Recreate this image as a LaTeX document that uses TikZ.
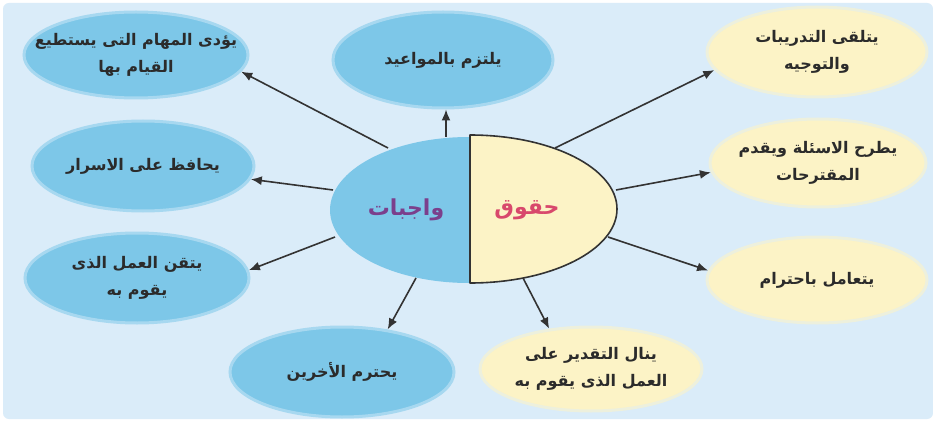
\documentclass[tikz,border=0pt]{standalone}
\usepackage{fontspec}
\usetikzlibrary{shapes.geometric,arrows.meta}
\newfontfamily\arabicfont[Script=Arabic]{DejaVu Sans}
\TeXXeTstate=1
\definecolor{bgblue}{HTML}{DAECF9}
\definecolor{ellblue}{HTML}{7DC7E8}
\definecolor{ellyellow}{HTML}{FCF3C6}
\definecolor{txtdark}{HTML}{2B2B2B}
\definecolor{wajcol}{HTML}{7B3F8C}
\definecolor{haqcol}{HTML}{D8486C}
\definecolor{arrcol}{HTML}{333333}
\tikzset{
  bell/.style={ellipse, fill=ellblue, draw=ellblue!55!bgblue, line width=3pt, inner sep=0pt},
  yell/.style={ellipse, fill=ellyellow, draw=ellyellow!55!bgblue, line width=3pt, inner sep=0pt},
  txt/.style={font=\arabicfont\bfseries\fontsize{16}{27}\selectfont, text=txtdark, align=center, inner sep=0pt},
  big/.style={font=\arabicfont\bfseries\fontsize{22}{24}\selectfont},
  arr/.style={draw=arrcol, line width=1.6pt, -{Latex[length=11pt,width=9pt]}},
}
\begin{document}
\begin{tikzpicture}[x=1pt,y=-1pt]
\useasboundingbox (0,0) rectangle (933,422);
\fill[white] (0,0) rectangle (933,422);
\fill[bgblue, rounded corners=6pt] (3,3) rectangle (933,419);

% blue ellipses (duties)
\node[bell, minimum width=224, minimum height=86] (e1) at (136,55) {};
\node[txt] (t1) at (e1) {\beginR يؤدى المهام التى يستطيع\endR\\\beginR القيام بها\endR};
\node[bell, minimum width=220, minimum height=96] (e2) at (443,60) {};
\node[txt] (t2) at (e2) {\beginR يلتزم بالمواعيد\endR};
\node[bell, minimum width=222, minimum height=90] (e3) at (143,166) {};
\node[txt] (t3) at (e3) {\beginR يحافظ على الاسرار\endR};
\node[bell, minimum width=224, minimum height=90] (e4) at (137,278) {};
\node[txt] (t4) at (e4) {\beginR يتقن العمل الذى\endR\\\beginR يقوم به\endR};
\node[bell, minimum width=224, minimum height=90] (e5) at (342,372) {};
\node[txt] (t5) at (e5) {\beginR يحترم الأخرين\endR};

% yellow ellipses (rights)
\node[yell, minimum width=220, minimum height=90] (y1) at (817,52) {};
\node[txt] (u1) at (y1) {\beginR يتلقى التدريبات\endR\\\beginR والتوجيه\endR};
\node[yell, minimum width=216, minimum height=88] (y2) at (818,163) {};
\node[txt] (u2) at (y2) {\beginR يطرح الاسئلة ويقدم\endR\\\beginR المقترحات\endR};
\node[yell, minimum width=220, minimum height=86] (y3) at (817,280) {};
\node[txt] (u3) at (y3) {\beginR يتعامل باحترام\endR};
\node[yell, minimum width=222, minimum height=84] (y4) at (591,369) {};
\node[txt] (u4) at (y4) {\beginR ينال التقدير على\endR\\\beginR العمل الذى يقوم به\endR};

% central shape
\begin{scope}
  \clip (320,120) rectangle (469,300);
  \fill[ellblue] (469,210) ellipse [x radius=139, y radius=73];
\end{scope}
\begin{scope}
  \clip (470,120) rectangle (640,300);
  \fill[ellyellow] (470,209) ellipse [x radius=147, y radius=74];
\end{scope}
\draw[arrcol, line width=1.6pt, line join=round] (470,135) arc[start angle=-90, end angle=90, x radius=147, y radius=74] -- cycle;
\node[big, text=wajcol] (waj) at (406,210) {\beginR واجبات\endR};
\node[big, text=haqcol] (haq) at (527,210) {\beginR حقوق\endR};

% arrow start points on the central shape
\coordinate (s1) at (388,148);
\coordinate (s2) at (446,137);
\coordinate (s3) at (333,190);
\coordinate (s4) at (335,237);
\coordinate (s5) at (416,278);
\coordinate (s6) at (555,148);
\coordinate (s7) at (616,190);
\coordinate (s8) at (608,237);
\coordinate (s9) at (523,278);

\draw[arr] (s1) -- (e1.-9.6);
\draw[arr] (s2) -- (s2 |- e2.south);
\draw[arr] (s3) -- (e3.-7.8);
\draw[arr] (s4) -- (e4.4);
\draw[arr] (s5) -- (e5.43.7);
\draw[arr] (s6) -- (y1.190.3);
\draw[arr] (s7) -- (y2.185.8);
\draw[arr] (s8) -- (y3.175.8);
\draw[arr] (s9) -- (y4.136.4);
\end{tikzpicture}
\end{document}
